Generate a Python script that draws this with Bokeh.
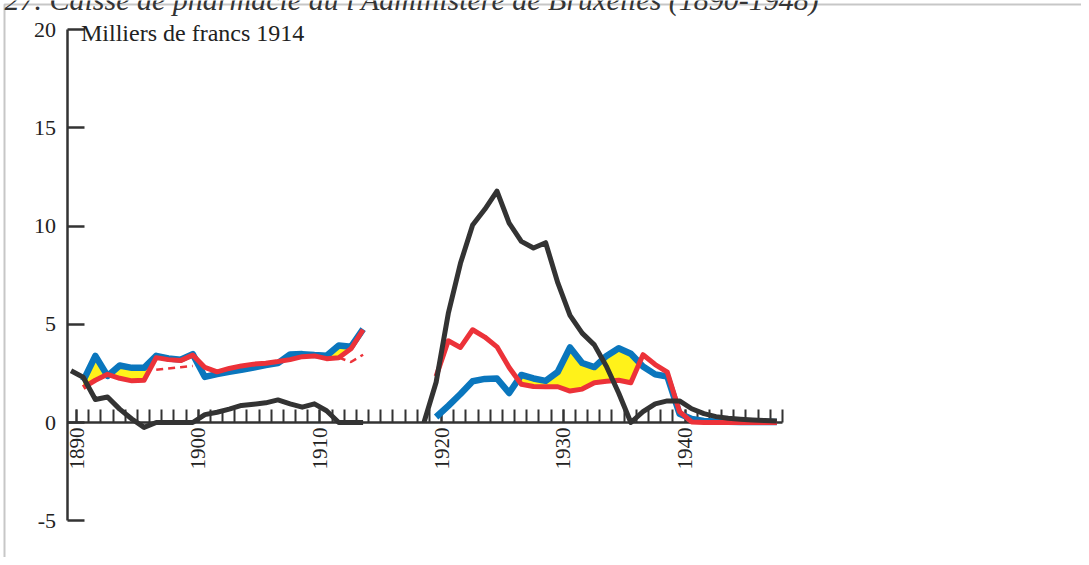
import numpy as np
from bokeh.plotting import figure
from bokeh.models import Range1d, LinearAxis, FixedTicker, Label, BoxAnnotation
from bokeh.embed import file_html
from bokeh.resources import INLINE

# ---------------- data ----------------
TITLE = "27. Caisse de pharmacie du l'Administère de Bruxelles (1890-1948)"
UNIT_LABEL = "Milliers de francs 1914"

# period 1
years_black_a = list(range(1889, 1914))
black_a = [2.63, 2.30, 1.17, 1.30, 0.68, 0.18, -0.25, 0.0, 0.0, 0.0, 0.0, 0.40, 0.52,
           0.68, 0.87, 0.93, 1.00, 1.15, 0.95, 0.78, 0.95, 0.60, 0.0, 0.0, 0.0]
years_a = list(range(1890, 1914))
blue_a = [2.12, 3.39, 2.37, 2.90, 2.78, 2.78, 3.39, 3.26, 3.20, 3.48, 2.32, 2.46,
          2.58, 2.68, 2.80, 2.92, 3.02, 3.46, 3.48, 3.43, 3.40, 3.92, 3.85, 4.75]
red_a = [1.78, 2.15, 2.45, 2.25, 2.12, 2.15, 3.30, 3.20, 3.15, 3.43, 2.80, 2.58,
         2.75, 2.88, 2.97, 3.02, 3.10, 3.20, 3.35, 3.39, 3.25, 3.30, 3.75, 4.72]
years_dash1 = [1896, 1897, 1898, 1899]
red_dash1 = [2.68, 2.75, 2.81, 2.88]
years_dash2 = [1911, 1912, 1913]
red_dash2 = [3.30, 3.08, 3.45]

# period 2
years_black_b = list(range(1918, 1948))
black_b = [0.0, 2.05, 5.55, 8.10, 10.05, 10.85, 11.78, 10.15, 9.22, 8.88, 9.15, 7.10,
           5.45, 4.55, 3.95, 2.85, 1.50, 0.0, 0.55, 0.95, 1.10, 1.10, 0.70, 0.45,
           0.30, 0.22, 0.17, 0.13, 0.10, 0.08]
years_b = list(range(1919, 1948))
blue_b = [0.28, 0.85, 1.45, 2.10, 2.22, 2.24, 1.50, 2.42, 2.24, 2.12, 2.58, 3.82,
          3.03, 2.82, 3.39, 3.78, 3.50, 2.85, 2.45, 2.34, 0.45, 0.18, 0.08, 0.05,
          0.04, 0.03, 0.02, 0.02, 0.02]
red_b = [2.35, 4.16, 3.82, 4.72, 4.35, 3.85, 2.80, 1.95, 1.83, 1.82, 1.82, 1.60,
         1.70, 2.02, 2.10, 2.15, 2.02, 3.45, 2.95, 2.56, 0.55, 0.03, 0.0, 0.0,
         0.0, 0.0, 0.0, 0.0, 0.0]

y_ticks = [-5, 0, 5, 10, 15, 20]
y_tick_text = {-5: "-5", 0: "0", 5: "5", 10: "10", 15: "15", 20: "20"}
x_label_ticks = [1890, 1900, 1910, 1920, 1930, 1940]
x_minor_ticks = list(range(1890, 1949))

# ---------------- layout ----------------
OFF = 8                      # page position of the canvas
W, H = 1081, 557
PX_YEAR, PX_UNIT = 12.17, 19.65
X_START = 1890 - (84 - OFF) / PX_YEAR
X_END = X_START + W / PX_YEAR
Y_END = (430 - OFF) / PX_UNIT
Y_START = Y_END - H / PX_UNIT
MID = 0.55  # values are plotted mid-year


def px_to_x(px):  # page pixel -> data x
    return X_START + (px - OFF) / PX_YEAR


def py_to_y(py):  # page pixel -> data y
    return Y_END - (py - OFF) / PX_UNIT


Y_AXIS_X = px_to_x(74.5)

BLACK = "#333333"
BLUE = "#0a76bd"
RED = "#ec3239"
YELLOW = "#fff21a"
SERIF = "Liberation Serif"


def shift(ys):
    return [y + MID for y in ys]


def fill_between(xs, upper, lower):
    fx, fu, fl = [], [], []
    for i in range(len(xs)):
        d = upper[i] - lower[i]
        if i > 0:
            dp = upper[i - 1] - lower[i - 1]
            if dp * d < 0:
                t = dp / (dp - d)
                xc = xs[i - 1] + t * (xs[i] - xs[i - 1])
                yc = lower[i - 1] + t * (lower[i] - lower[i - 1])
                fx.append(xc); fu.append(yc); fl.append(yc)
        fx.append(xs[i]); fl.append(lower[i]); fu.append(max(upper[i], lower[i]))
    return fx, fu, fl


p = figure(width=W, height=H, x_range=Range1d(X_START, X_END), y_range=Range1d(Y_START, Y_END),
           output_backend="svg", toolbar_location=None, x_axis_type=None, y_axis_type=None,
           min_border=0, min_border_left=0, min_border_right=0, min_border_top=0,
           min_border_bottom=0)
p.outline_line_color = None
p.background_fill_color = "white"

# axes
yaxis = LinearAxis(fixed_location=Y_AXIS_X, bounds=(-5, 20), ticker=FixedTicker(ticks=y_ticks),
                   level="underlay")
yaxis.major_label_overrides = y_tick_text
yaxis.axis_line_color = BLACK
yaxis.axis_line_width = 2.5
yaxis.major_tick_in = 17
yaxis.major_tick_out = 0
yaxis.major_tick_line_width = 2.5
yaxis.major_tick_line_color = BLACK
yaxis.minor_tick_line_color = None
yaxis.major_label_standoff = 11
yaxis.major_label_text_font = SERIF
yaxis.major_label_text_font_size = "22px"
yaxis.major_label_text_color = "#222222"
p.add_layout(yaxis, "left")

xaxis = LinearAxis(fixed_location=0, bounds=(Y_AXIS_X, 1948.05),
                   ticker=FixedTicker(ticks=x_label_ticks, minor_ticks=x_minor_ticks),
                   level="underlay")
xaxis.axis_line_color = BLACK
xaxis.axis_line_width = 2.5
xaxis.major_tick_in = 13
xaxis.major_tick_out = 0
xaxis.minor_tick_in = 13
xaxis.minor_tick_out = 0
xaxis.major_tick_line_width = 2
xaxis.minor_tick_line_width = 2
xaxis.major_tick_line_color = BLACK
xaxis.minor_tick_line_color = BLACK
xaxis.major_label_orientation = np.pi / 2
xaxis.major_label_standoff = 5
xaxis.major_label_text_font = SERIF
xaxis.major_label_text_font_size = "21px"
xaxis.major_label_text_color = "#222222"
p.add_layout(xaxis, "below")

# yellow fills where blue > red
for yrs, b, r in ((years_a, blue_a, red_a), (years_b, blue_b, red_b)):
    fx, fu, fl = fill_between(shift(yrs), b, r)
    p.varea(x=fx, y1=fl, y2=fu, fill_color=YELLOW)

# blue lines
for yrs, b in ((years_a, blue_a), (years_b, blue_b)):
    p.line(shift(yrs), b, line_color=BLUE, line_width=6.5, line_join="round")

# red lines
for yrs, r in ((years_a, red_a), (years_b, red_b)):
    p.line(shift(yrs), r, line_color=RED, line_width=5, line_join="round")
for yrs, r in ((years_dash1, red_dash1), (years_dash2, red_dash2)):
    p.line(shift(yrs), r, line_color=RED, line_width=2.5, line_dash="7 5")

# black lines
for yrs, k in ((years_black_a, black_a), (years_black_b, black_b)):
    p.line(shift(yrs), k, line_color=BLACK, line_width=5, line_join="round")

# unit label
p.add_layout(Label(x=Y_AXIS_X, y=py_to_y(40), x_offset=14, text=UNIT_LABEL, text_font=SERIF,
                   text_font_size="24px", text_color="#222222", text_baseline="alphabetic"))

# title (cut at the top of the page, as in the original)
p.add_layout(Label(x=px_to_x(12), y=py_to_y(7), text=TITLE, text_font=SERIF,
                   text_font_style="italic", text_font_size="30px", text_color="#333333",
                   text_baseline="alphabetic"))

# frame border (left and top edges)
p.add_layout(BoxAnnotation(left=px_to_x(12), top=py_to_y(12), right=X_END + 5,
                           bottom=Y_START - 5, fill_alpha=0, fill_color=None,
                           line_color="#444444", line_width=2))

open("out.html", "w").write(file_html(p, INLINE))
